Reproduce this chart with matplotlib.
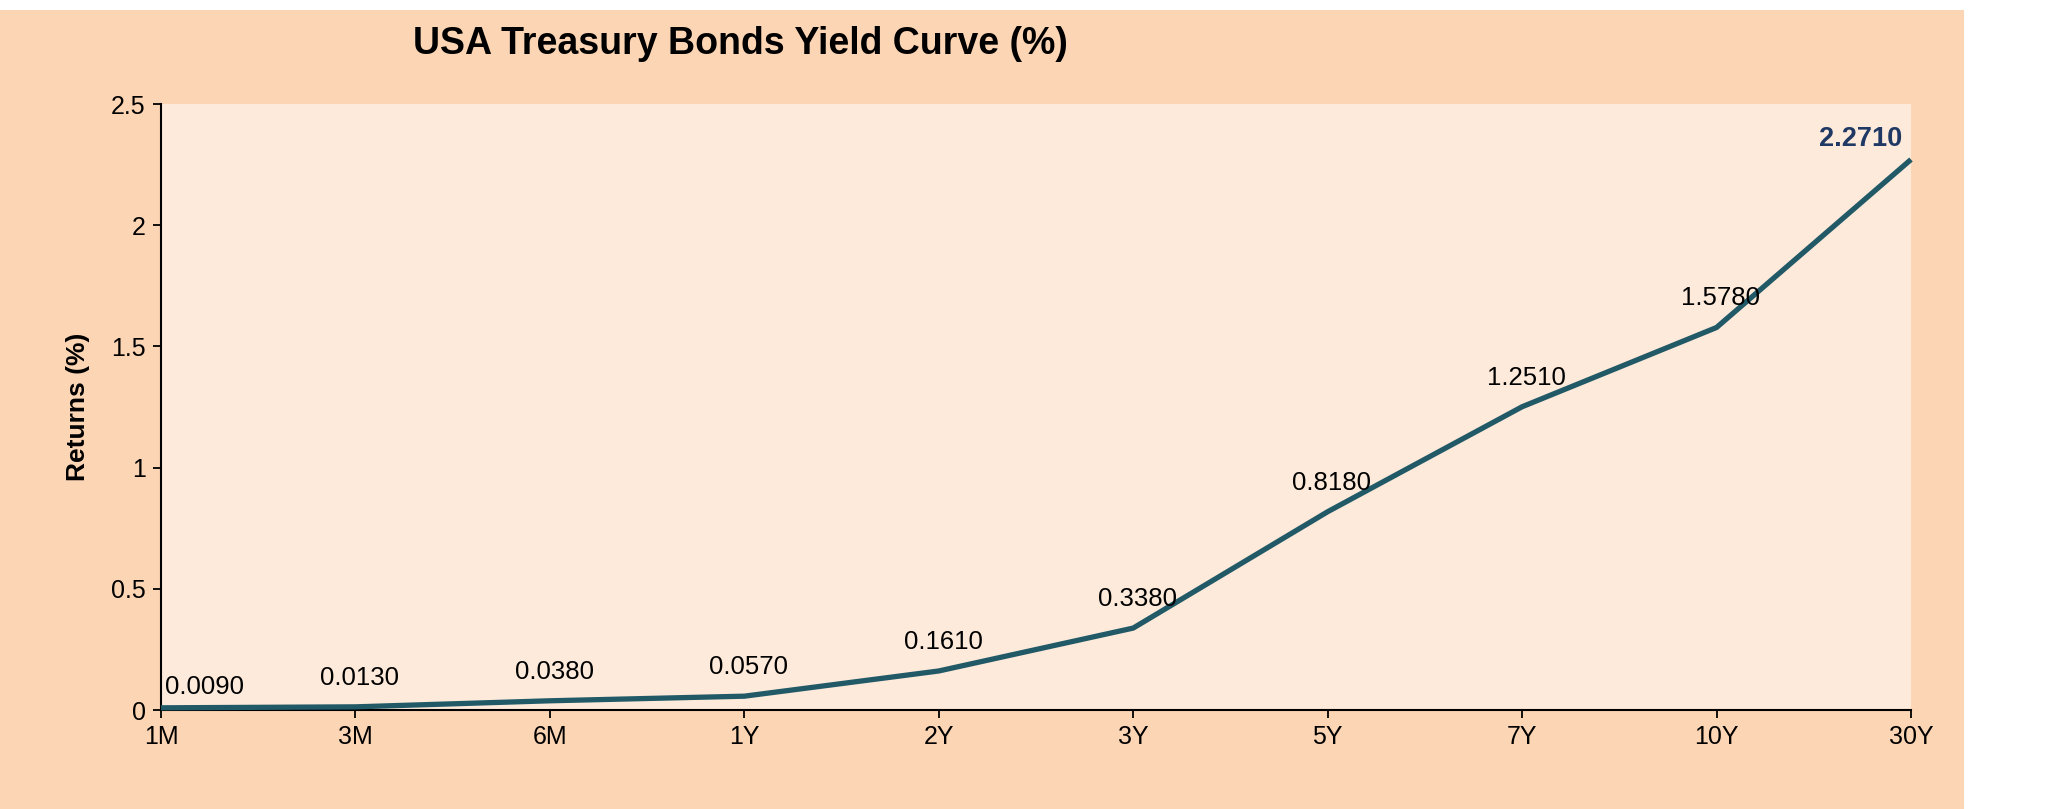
import matplotlib
matplotlib.use("Agg")
import matplotlib.pyplot as plt
from matplotlib.patches import Rectangle

# data
tenors = ['1M', '3M', '6M', '1Y', '2Y', '3Y', '5Y', '7Y', '10Y', '30Y']
yields = [0.009, 0.013, 0.038, 0.057, 0.161, 0.338, 0.818, 1.251, 1.578, 2.271]
yticks = [0, 0.5, 1, 1.5, 2, 2.5]
ytick_labels = ['0', '0.5', '1', '1.5', '2', '2.5']

plt.rcParams['font.family'] = ['Liberation Sans', 'DejaVu Sans']

peach = '#FCD5B4'
light = '#FDEADA'
line_col = '#215967'
navy = '#1F3864'

fig = plt.figure(figsize=(20.49, 8.09), dpi=100, facecolor='white')
fig.patches.append(Rectangle((0, 0), 1964 / 2049, 799 / 809, transform=fig.transFigure,
                             facecolor=peach, edgecolor='none', zorder=-10))

ax = fig.add_axes([161 / 2049, 1 - 710 / 809, (1911 - 161) / 2049, (710 - 104) / 809])
ax.set_facecolor(light)

x = list(range(len(tenors)))
ax.plot(x, yields, color=line_col, lw=3.8, solid_capstyle='butt', clip_on=False, zorder=3)

for i, (xi, v) in enumerate(zip(x, yields)):
    if i == len(x) - 1:
        ax.annotate(f'{v:.4f}', (xi, v), xytext=(-6, 15), textcoords='offset points',
                    ha='right', va='center', fontsize=19.5, fontweight='bold', color=navy)
    elif i == 0:
        ax.annotate(f'{v:.4f}', (xi, v), xytext=(31, 15), textcoords='offset points',
                    ha='center', va='center', fontsize=18.5, color='black')
    else:
        ax.annotate(f'{v:.4f}', (xi, v), xytext=(3, 21), textcoords='offset points',
                    ha='center', va='center', fontsize=18.5, color='black')

ax.set_xlim(0, len(x) - 1)
ax.set_ylim(0, 2.5)
ax.set_xticks(x)
ax.set_xticklabels(tenors, fontsize=18)
ax.set_yticks(yticks)
ax.set_yticklabels(ytick_labels, fontsize=18)
ax.tick_params(direction='out', length=6, width=1.3, color='black', pad=5)
for s in ['top', 'right']:
    ax.spines[s].set_visible(False)
for s in ['left', 'bottom']:
    ax.spines[s].set_linewidth(1.5)
    ax.spines[s].set_color('black')

fig.text(740 / 2049, 1 - 44 / 809, 'USA Treasury Bonds Yield Curve (%)', ha='center', va='center',
         fontsize=27, fontweight='bold')
fig.text(78 / 2049, 1 - 407 / 809, 'Returns (%)', ha='center', va='center', rotation=90,
         fontsize=19, fontweight='bold')

fig.savefig('out.png', dpi=100, facecolor=fig.get_facecolor())
